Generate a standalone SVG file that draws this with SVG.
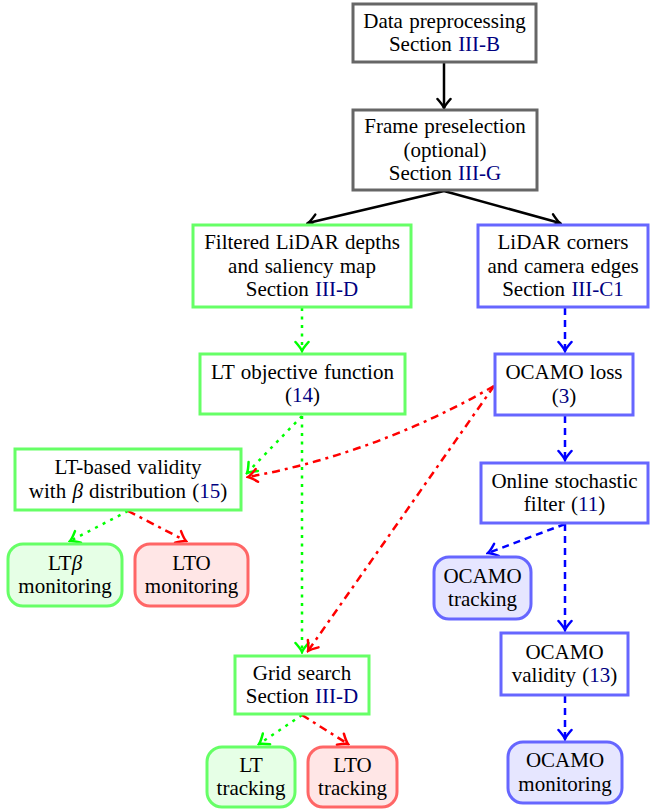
<svg xmlns="http://www.w3.org/2000/svg" width="650" height="809" viewBox="0 0 650 809">
<style>
text{font-family:"Liberation Serif","Times New Roman",serif;font-size:21px;fill:#000;text-anchor:middle;word-spacing:1px}
.ref{fill:#000080}
.box{fill:#fff;stroke-width:3}
.gray{stroke:#666666}
.grn{stroke:#66ff66}
.blu{stroke:#6666ff}
.red{stroke:#ff6666}
.gfill{fill:#e6ffe6}
.rfill{fill:#ffe6e6}
.bfill{fill:#e6e6ff}
.c{fill:none;stroke-width:2.5}
.ck{stroke:#000}
.cg{stroke:#00ff00;stroke-dasharray:3 5.5}
.cr{stroke:#ff0000;stroke-dasharray:8 5 3 5}
.cb{stroke:#0000ff;stroke-dasharray:7 5}
</style>
<defs>
<marker id="ak" viewBox="-12 -10 14 20" markerWidth="14" markerHeight="20" refX="0" refY="0" orient="auto" markerUnits="userSpaceOnUse"><path d="M-9,-6.5 Q-3,-1.2 0,0 Q-3,1.2 -9,6.5" fill="none" stroke="#000" stroke-width="2.5" stroke-linecap="round"/></marker>
<marker id="ag" viewBox="-12 -10 14 20" markerWidth="14" markerHeight="20" refX="0" refY="0" orient="auto" markerUnits="userSpaceOnUse"><path d="M-9,-6.5 Q-3,-1.2 0,0 Q-3,1.2 -9,6.5" fill="none" stroke="#00ff00" stroke-width="2.5" stroke-linecap="round"/></marker>
<marker id="ar" viewBox="-12 -10 14 20" markerWidth="14" markerHeight="20" refX="0" refY="0" orient="auto" markerUnits="userSpaceOnUse"><path d="M-9,-6.5 Q-3,-1.2 0,0 Q-3,1.2 -9,6.5" fill="none" stroke="#ff0000" stroke-width="2.5" stroke-linecap="round"/></marker>
<marker id="ab" viewBox="-12 -10 14 20" markerWidth="14" markerHeight="20" refX="0" refY="0" orient="auto" markerUnits="userSpaceOnUse"><path d="M-9,-6.5 Q-3,-1.2 0,0 Q-3,1.2 -9,6.5" fill="none" stroke="#0000ff" stroke-width="2.5" stroke-linecap="round"/></marker>
</defs>

<g id="connectors">
<path class="c ck" d="M444,63 L444,108" marker-end="url(#ak)"/>
<path class="c ck" d="M444,191 L308,223" marker-end="url(#ak)"/>
<path class="c ck" d="M444,191 L560,223" marker-end="url(#ak)"/>
<path class="c cg" d="M302,308 L302,351" marker-end="url(#ag)"/>
<path class="c cb" d="M565,308 L565,351" marker-end="url(#ab)"/>
<path class="c cg" d="M302,416 L247,473" marker-end="url(#ag)"/>
<path class="c cg" d="M302,416 L302,652" marker-end="url(#ag)"/>
<path class="c cr" d="M494,386 Q378,453 248,477" marker-end="url(#ar)"/>
<path class="c cr" d="M494,386 L308,651" marker-end="url(#ar)"/>
<path class="c cb" d="M565,416 L565,460" marker-end="url(#ab)"/>
<path class="c cg" d="M128,511 L70,541" marker-end="url(#ag)"/>
<path class="c cr" d="M128,511 L186,541" marker-end="url(#ar)"/>
<path class="c cb" d="M565,524 L488,553" marker-end="url(#ab)"/>
<path class="c cb" d="M565,524 L565,630" marker-end="url(#ab)"/>
<path class="c cb" d="M565,696 L565,739" marker-end="url(#ab)"/>
<path class="c cg" d="M302,715 L259,744" marker-end="url(#ag)"/>
<path class="c cr" d="M302,715 L348,744" marker-end="url(#ar)"/>
</g>

<g id="n1"><rect class="box gray" x="353" y="4" width="183" height="58"/>
<text x="444.5" y="27.75">Data preprocessing</text>
<text x="444.5" y="51.25">Section <tspan class="ref">III-B</tspan></text></g>

<g id="n2"><rect class="box gray" x="353" y="110" width="184" height="80"/>
<text x="445" y="133">Frame preselection</text>
<text x="445" y="156.5">(optional)</text>
<text x="445" y="180">Section <tspan class="ref">III-G</tspan></text></g>

<g id="n3"><rect class="box grn" x="193" y="225" width="218" height="82"/>
<text x="302" y="249">Filtered LiDAR depths</text>
<text x="302" y="272.5">and saliency map</text>
<text x="302" y="296">Section <tspan class="ref">III-D</tspan></text></g>

<g id="n4"><rect class="box blu" x="478" y="225" width="170" height="82"/>
<text x="563" y="249">LiDAR corners</text>
<text x="563" y="272.5">and camera edges</text>
<text x="563" y="296">Section <tspan class="ref">III-C1</tspan></text></g>

<g id="n5"><rect class="box grn" x="200" y="354" width="205" height="60"/>
<text x="302.5" y="378.75">LT objective function</text>
<text x="302.5" y="402.25">(<tspan class="ref">14</tspan>)</text></g>

<g id="n6"><rect class="box blu" x="495" y="354" width="138" height="61"/>
<text x="564" y="379.25">OCAMO loss</text>
<text x="564" y="402.75">(<tspan class="ref">3</tspan>)</text></g>

<g id="n7"><rect class="box grn" x="15" y="449" width="226" height="61"/>
<text x="128" y="474.25">LT-based validity</text>
<text x="128" y="497.75">with <tspan font-style="italic">β</tspan> distribution (<tspan class="ref">15</tspan>)</text></g>

<g id="n8"><rect class="box blu" x="481" y="463" width="167" height="60"/>
<text x="564.5" y="487.75">Online stochastic</text>
<text x="564.5" y="511.25">filter (<tspan class="ref">11</tspan>)</text></g>

<g id="n9"><rect class="box grn gfill" x="8" y="544" width="114" height="62" rx="15"/>
<text x="65" y="569.75">LT<tspan font-style="italic">β</tspan></text>
<text x="65" y="593.25">monitoring</text></g>

<g id="n10"><rect class="box red rfill" x="135" y="544" width="113" height="62" rx="15"/>
<text x="191.5" y="569.75">LTO</text>
<text x="191.5" y="593.25">monitoring</text></g>

<g id="n11"><rect class="box blu bfill" x="434" y="557" width="97" height="62" rx="15"/>
<text x="482.5" y="582.75">OCAMO</text>
<text x="482.5" y="606.25">tracking</text></g>

<g id="n12"><rect class="box grn" x="235" y="656" width="134" height="58"/>
<text x="302" y="679.75">Grid search</text>
<text x="302" y="703.25">Section <tspan class="ref">III-D</tspan></text></g>

<g id="n13"><rect class="box grn gfill" x="207" y="747" width="88" height="60" rx="15"/>
<text x="251" y="771.75">LT</text>
<text x="251" y="795.25">tracking</text></g>

<g id="n14"><rect class="box red rfill" x="308" y="747" width="89" height="60" rx="15"/>
<text x="352.5" y="771.75">LTO</text>
<text x="352.5" y="795.25">tracking</text></g>

<g id="n15"><rect class="box blu" x="501" y="633" width="127" height="62"/>
<text x="564.5" y="658.75">OCAMO</text>
<text x="564.5" y="682.25">validity (<tspan class="ref">13</tspan>)</text></g>

<g id="n16"><rect class="box blu bfill" x="508" y="742" width="114" height="61" rx="15"/>
<text x="565" y="767.25">OCAMO</text>
<text x="565" y="790.75">monitoring</text></g>
</svg>
